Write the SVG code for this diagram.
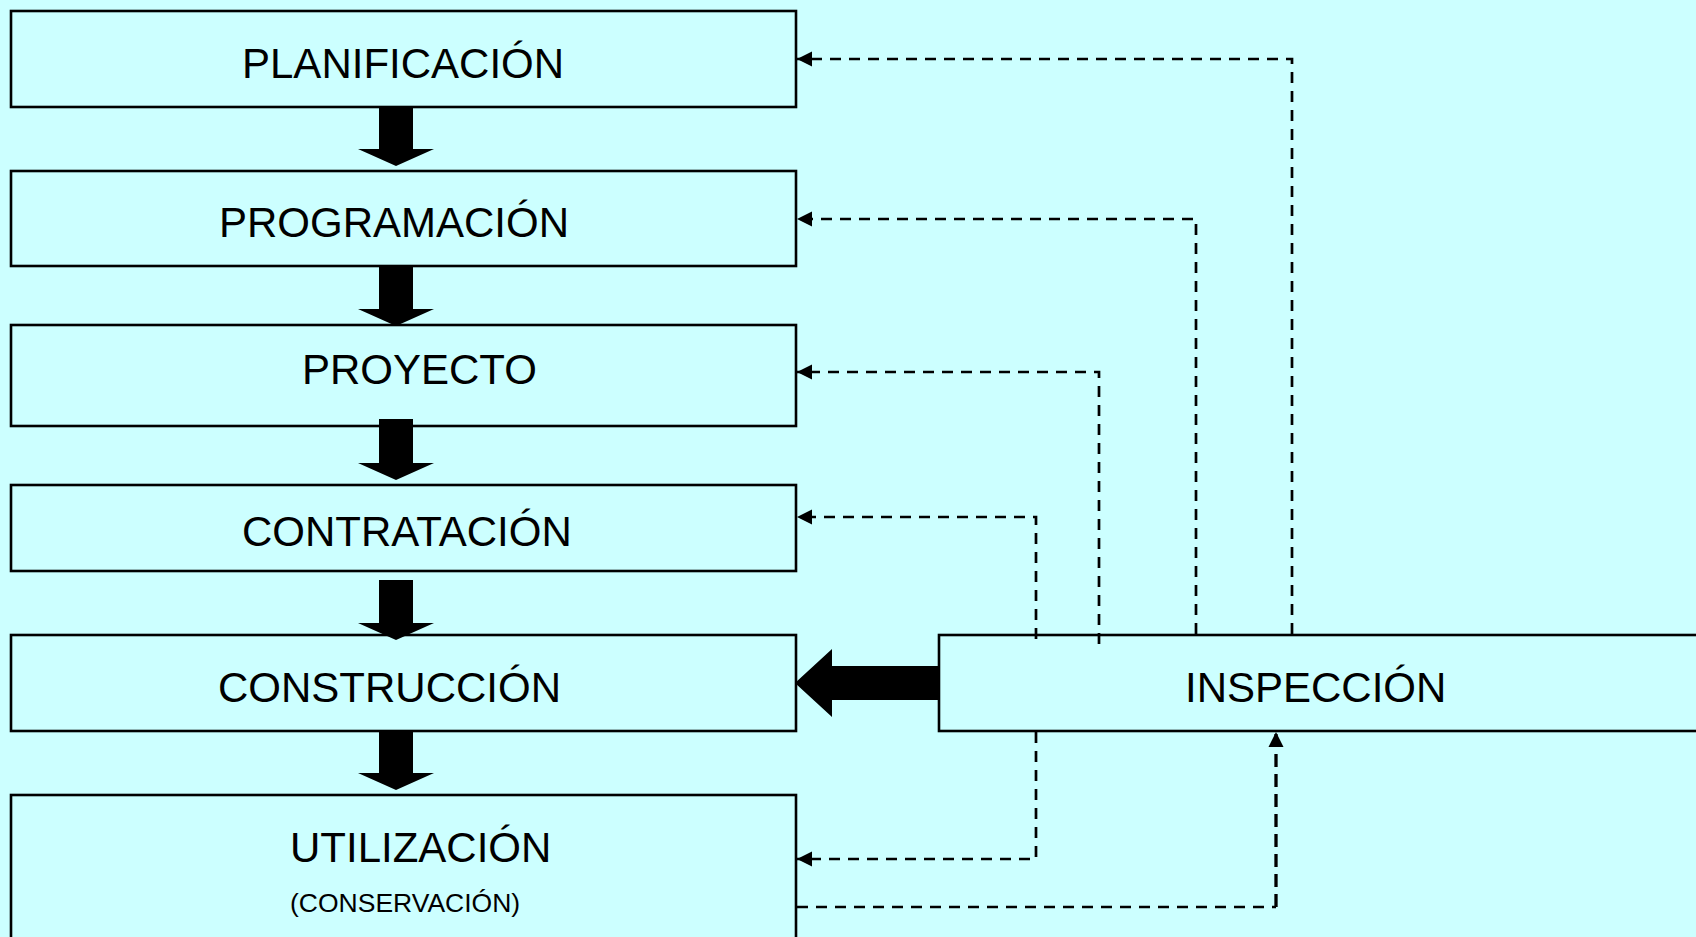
<svg xmlns="http://www.w3.org/2000/svg" width="1696" height="937" viewBox="0 0 1696 937">
<style>
.box{fill:#CCFFFF;stroke:#000;stroke-width:2.6}
.lbl{font-family:"Liberation Sans",Arial,sans-serif;font-size:42px;fill:#000}
.sm{font-size:26.5px}
.dash{fill:none;stroke:#000;stroke-width:2.7;stroke-dasharray:11 8}
.dash2{fill:none;stroke:#000;stroke-width:3.3;stroke-dasharray:13 7}
.blk{fill:#000}
</style>
<defs>
<marker id="ah" markerUnits="userSpaceOnUse" markerWidth="16" markerHeight="16" viewBox="0 -8 16 16" refX="15" refY="0" orient="auto">
<path d="M0,-7.5 L15,0 L0,7.5 Z" fill="#000"/>
</marker>
</defs>
<rect width="1696" height="937" fill="#CCFFFF"/>
<g id="planificacion"><rect class="box" x="11" y="11" width="785" height="96"/><text class="lbl" x="242" y="78">PLANIFICACIÓN</text></g>
<g id="programacion"><rect class="box" x="11" y="171" width="785" height="95"/><text class="lbl" x="219" y="237">PROGRAMACIÓN</text></g>
<g id="proyecto"><rect class="box" x="11" y="325" width="785" height="101"/><text class="lbl" x="302" y="384">PROYECTO</text></g>
<g id="contratacion"><rect class="box" x="11" y="485" width="785" height="86"/><text class="lbl" x="242" y="546">CONTRATACIÓN</text></g>
<g id="construccion"><rect class="box" x="11" y="635" width="785" height="96"/><text class="lbl" x="218" y="702">CONSTRUCCIÓN</text></g>
<g id="utilizacion"><rect class="box" x="11" y="795" width="785" height="150"/><text class="lbl" x="290" y="862">UTILIZACIÓN</text><text class="lbl sm" x="290" y="912">(CONSERVACIÓN)</text></g>
<g id="inspeccion"><rect class="box" x="939" y="635" width="770" height="96"/><text class="lbl" x="1185" y="702">INSPECCIÓN</text></g>
<g id="connectors">
<polygon class="blk" points="379,107 413,107 413,149 434,149 396,166 358,149 379,149"/>
<polygon class="blk" points="379,266 413,266 413,309 434,309 396,326 358,309 379,309"/>
<polygon class="blk" points="379,419 413,419 413,463 434,463 396,480 358,463 379,463"/>
<polygon class="blk" points="379,580 413,580 413,623 434,623 396,640 358,623 379,623"/>
<polygon class="blk" points="379,730 413,730 413,773 434,773 396,790 358,773 379,773"/>
<polygon class="blk" points="939,666 832,666 832,649 795,683 832,717 832,700 939,700"/>
<path class="dash" d="M1292,634 V59 H797" marker-end="url(#ah)"/>
<path class="dash" d="M1196,634 V219 H797" marker-end="url(#ah)"/>
<path class="dash" d="M1099,644 V372 H797" marker-end="url(#ah)"/>
<path class="dash" d="M1036,639 V517 H797" marker-end="url(#ah)"/>
<path class="dash" d="M1036,732 V859 H797" marker-end="url(#ah)"/>
<path class="dash" d="M797,907 H1276"/>
<path class="dash2" d="M1276,907 V732" marker-end="url(#ah)"/>
</g>
</svg>
